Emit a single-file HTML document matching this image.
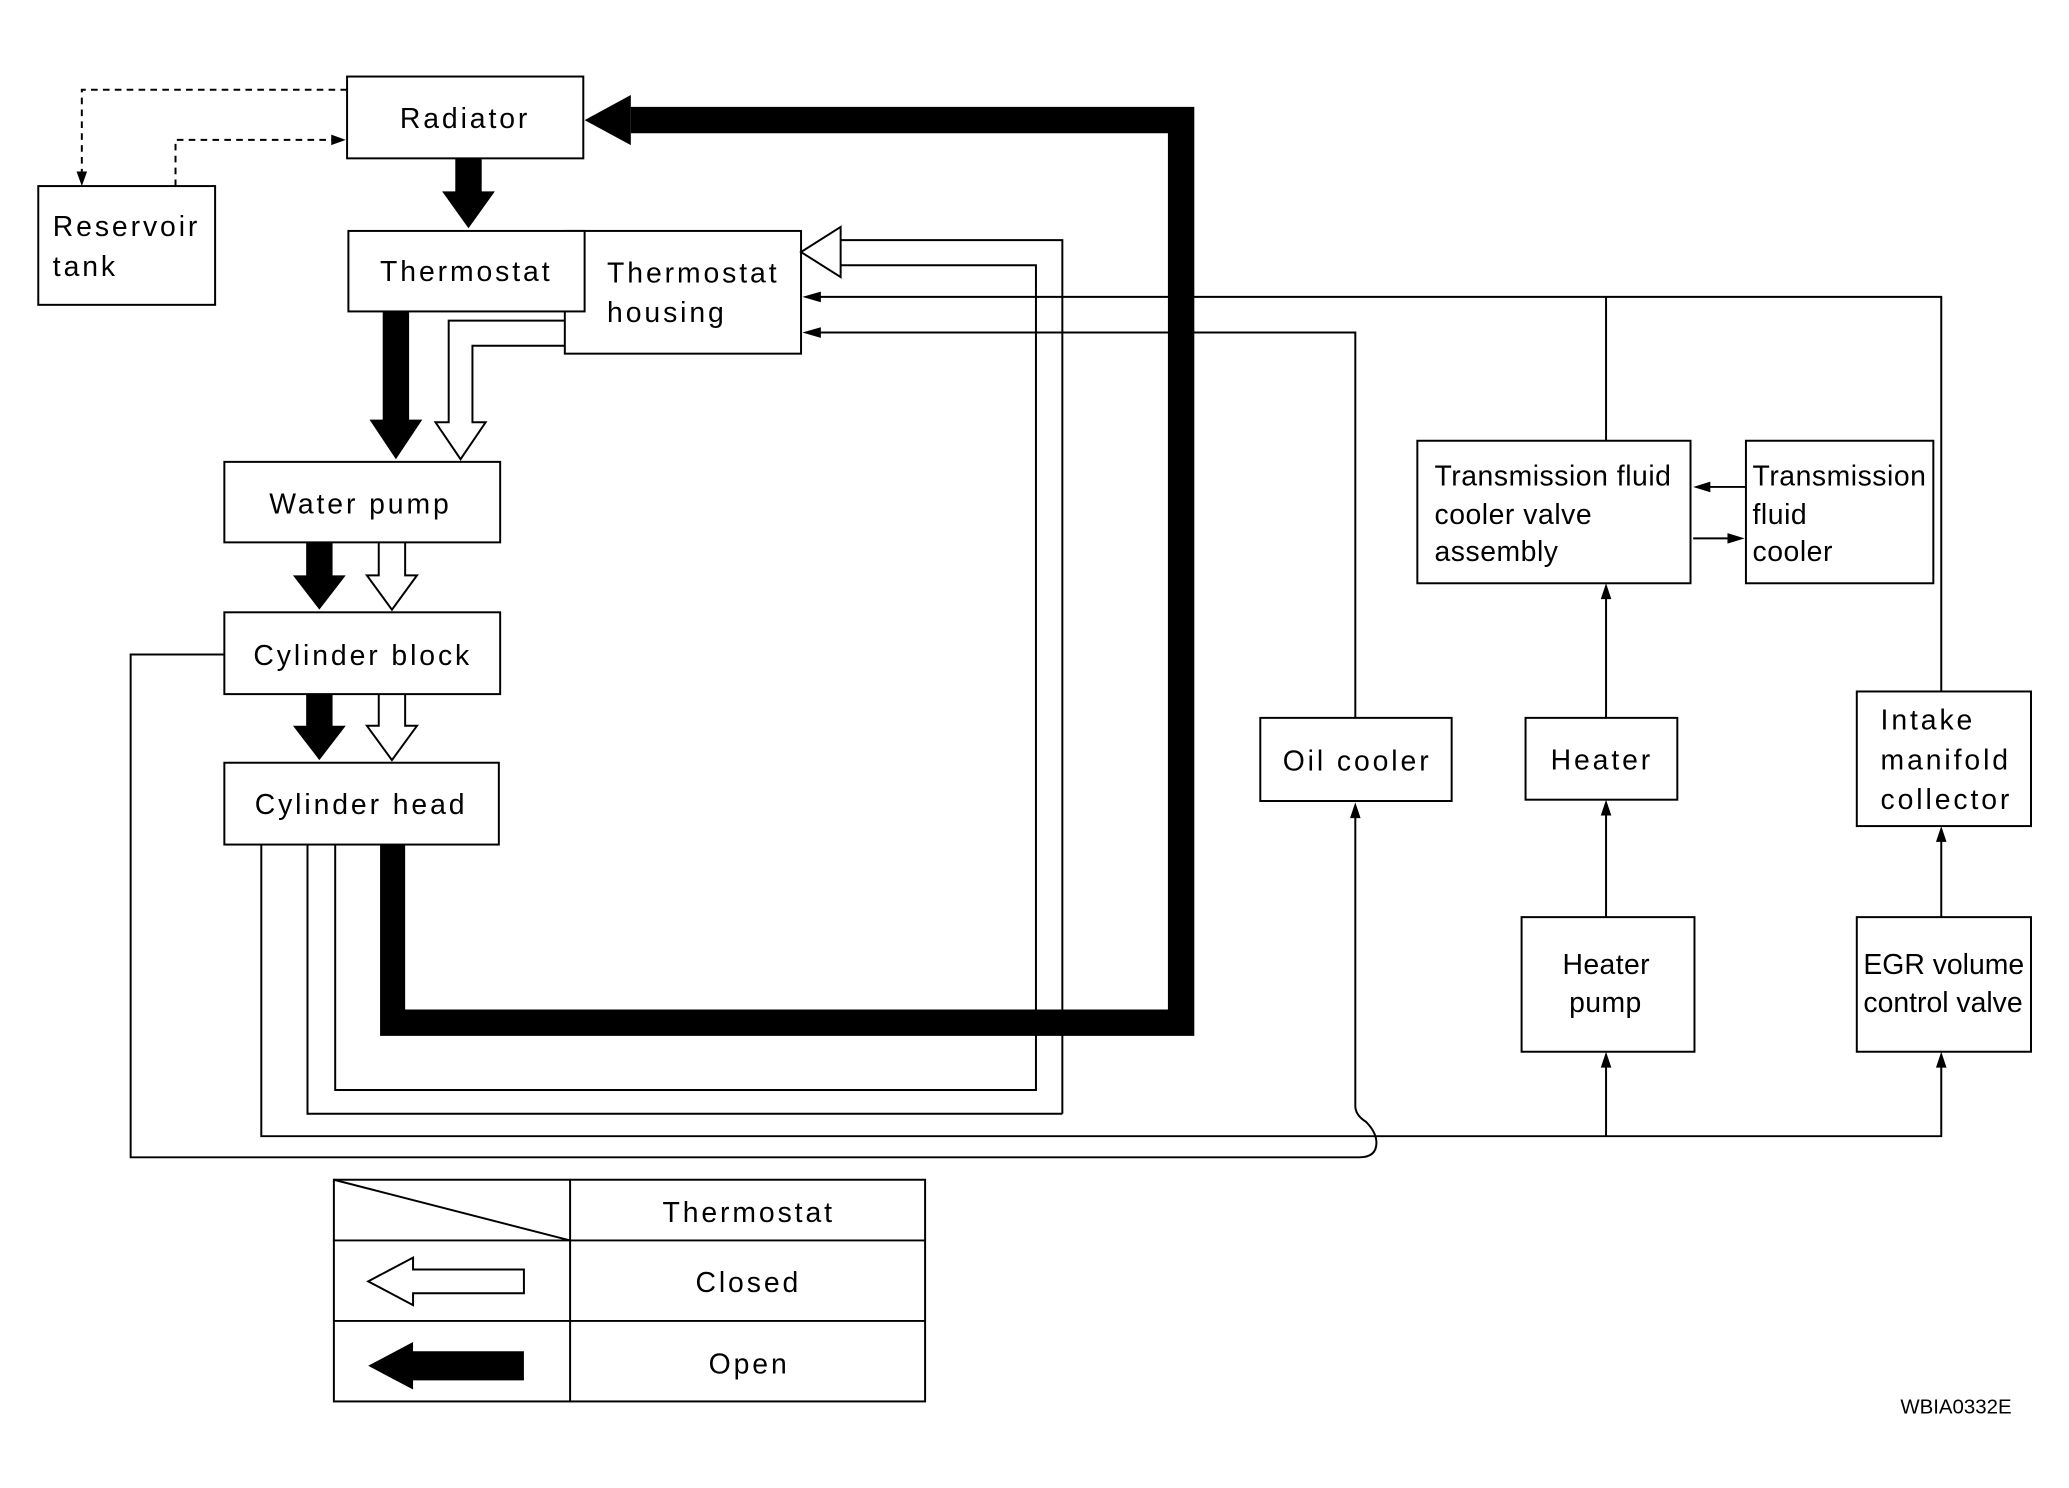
<!DOCTYPE html>
<html><head><meta charset="utf-8"><style>
html,body{margin:0;padding:0;background:#fff;}
svg{display:block}
text{font-family:"Liberation Sans",sans-serif;font-size:21.5px;letter-spacing:2.2px;fill:#000}
</style></head><body>
<svg width="2069" height="1488" viewBox="0 0 1567.8 1127.6" preserveAspectRatio="none" xmlns="http://www.w3.org/2000/svg">
<g fill="none" stroke="#000" stroke-width="1.5">
<rect x="263" y="58" width="179" height="62"/>
<rect x="29" y="141" width="134" height="90"/>
<rect x="428" y="175" width="179" height="93"/>
<rect x="264" y="175" width="179" height="61" fill="#fff"/>
<rect x="170" y="350" width="209" height="61"/>
<rect x="170" y="464" width="209" height="62"/>
<rect x="170" y="578" width="208" height="62"/>
<rect x="955" y="544" width="145" height="63"/>
<rect x="1156" y="544" width="115" height="62"/>
<rect x="1153" y="695" width="131" height="102"/>
<rect x="1407" y="524" width="132" height="102"/>
<rect x="1407" y="695" width="132" height="102"/>
<rect x="1074" y="334" width="207" height="108"/>
<rect x="1323" y="334" width="142" height="108"/>
<path d="M263 68 H62 V136" stroke-dasharray="5,4"/>
<path d="M133 141 V106 H256" stroke-dasharray="5,4"/>
<path d="M198 640 V861 H1471 V802"/>
<path d="M233 640 V844 H805"/>
<path d="M254 640 V826 H785 V201 H637"/>
<path d="M805 844 V182 H637"/>
<path d="M637 172 L607 191 L637 210 Z"/>
<path d="M428 243 H340 V320 H330 L349 348 L368 320 H358 V262 H428"/>
<path d="M287 411 V436 H278 L297 462 L316 436 H307 V411"/>
<path d="M287 526 V550 H278 L297 576 L316 550 H307 V526"/>
<path d="M1471 524 V225 H615"/>
<path d="M1217 334 V225"/>
<path d="M1027 544 V252 H615"/>
<path d="M170 496 H99 V877 H1030 Q1043 877 1043 866 Q1043 858 1035 850 Q1027 845 1027 838 V614"/>
<path d="M1217 861 V804"/>
<path d="M1217 695 V613"/>
<path d="M1217 544 V449"/>
<path d="M1471 695 V633"/>
<path d="M1323 369 H1290"/>
<path d="M1283 408 H1315"/>
<rect x="253" y="894" width="448" height="168"/>
<path d="M253 940 H701 M253 1001 H701 M432 894 V1062 M253 894 L432 940"/>
<path d="M279 971 L313 953 V962 H397 V980 H313 V989 Z"/>
</g>
<g fill="#000" stroke="none">
<path d="M288 640 H307 V765 H885 V101 H478 V81 H905 V785 H288 Z"/>
<path d="M443 91 L478 72 L478 110 Z"/>
<path d="M345 120 H365 V145 H375 L355 173 L335 145 H345 Z"/>
<path d="M290 236 H310 V318 H320 L300 348 L280 318 H290 Z"/>
<path d="M232 411 H252 V436 H262 L242 462 L222 436 H232 Z"/>
<path d="M232 526 H252 V550 H262 L242 576 L222 550 H232 Z"/>
<path d="M279 1035 L313 1017 V1024 H397 V1046 H313 V1053 Z"/>
<path d="M62 141 L58 130 L66 130 Z"/>
<path d="M262 106 L251 102 L251 110 Z"/>
<path d="M608 225 L622 221 L622 229 Z"/>
<path d="M608 252 L622 248 L622 256 Z"/>
<path d="M1027 608 L1023 620 L1031 620 Z"/>
<path d="M1217 797 L1213 809 L1221 809 Z"/>
<path d="M1217 606 L1213 618 L1221 618 Z"/>
<path d="M1217 442 L1213 454 L1221 454 Z"/>
<path d="M1471 797 L1467 809 L1475 809 Z"/>
<path d="M1471 626 L1467 638 L1475 638 Z"/>
<path d="M1283 369 L1296 365 L1296 373 Z"/>
<path d="M1322 408 L1309 404 L1309 412 Z"/>
</g>
<text x="303" y="97">Radiator</text>
<text x="40" y="179">Reservoir</text>
<text x="40" y="209">tank</text>
<text x="288" y="213">Thermostat</text>
<text x="460" y="214">Thermostat</text>
<text x="460" y="244">housing</text>
<text x="204" y="389">Water pump</text>
<text x="192" y="504">Cylinder block</text>
<text x="193" y="617">Cylinder head</text>
<text x="972" y="584">Oil cooler</text>
<text x="1175" y="583">Heater</text>
<text x="1184" y="738" style="letter-spacing:0.3px">Heater</text>
<text x="1189" y="767" style="letter-spacing:0.3px">pump</text>
<text x="1425" y="553">Intake</text>
<text x="1425" y="583">manifold</text>
<text x="1425" y="613">collector</text>
<text x="1412" y="738" style="font-size:21.5px;letter-spacing:0">EGR volume</text>
<text x="1412" y="767" style="font-size:21.5px;letter-spacing:0">control valve</text>
<text x="1087" y="368" style="font-size:21.5px;letter-spacing:0.4px">Transmission fluid</text>
<text x="1087" y="397" style="font-size:21.5px;letter-spacing:0.4px">cooler valve</text>
<text x="1087" y="425" style="font-size:21.5px;letter-spacing:0.4px">assembly</text>
<text x="1328" y="368" style="font-size:21.5px;letter-spacing:0.4px">Transmission</text>
<text x="1328" y="397" style="font-size:21.5px;letter-spacing:0.4px">fluid</text>
<text x="1328" y="425" style="font-size:21.5px;letter-spacing:0.4px">cooler</text>
<text x="502" y="926">Thermostat</text>
<text x="527" y="979">Closed</text>
<text x="537" y="1041">Open</text>
<text x="1440" y="1071" style="font-size:15.5px;letter-spacing:0">WBIA0332E</text>
</svg>
</body></html>
